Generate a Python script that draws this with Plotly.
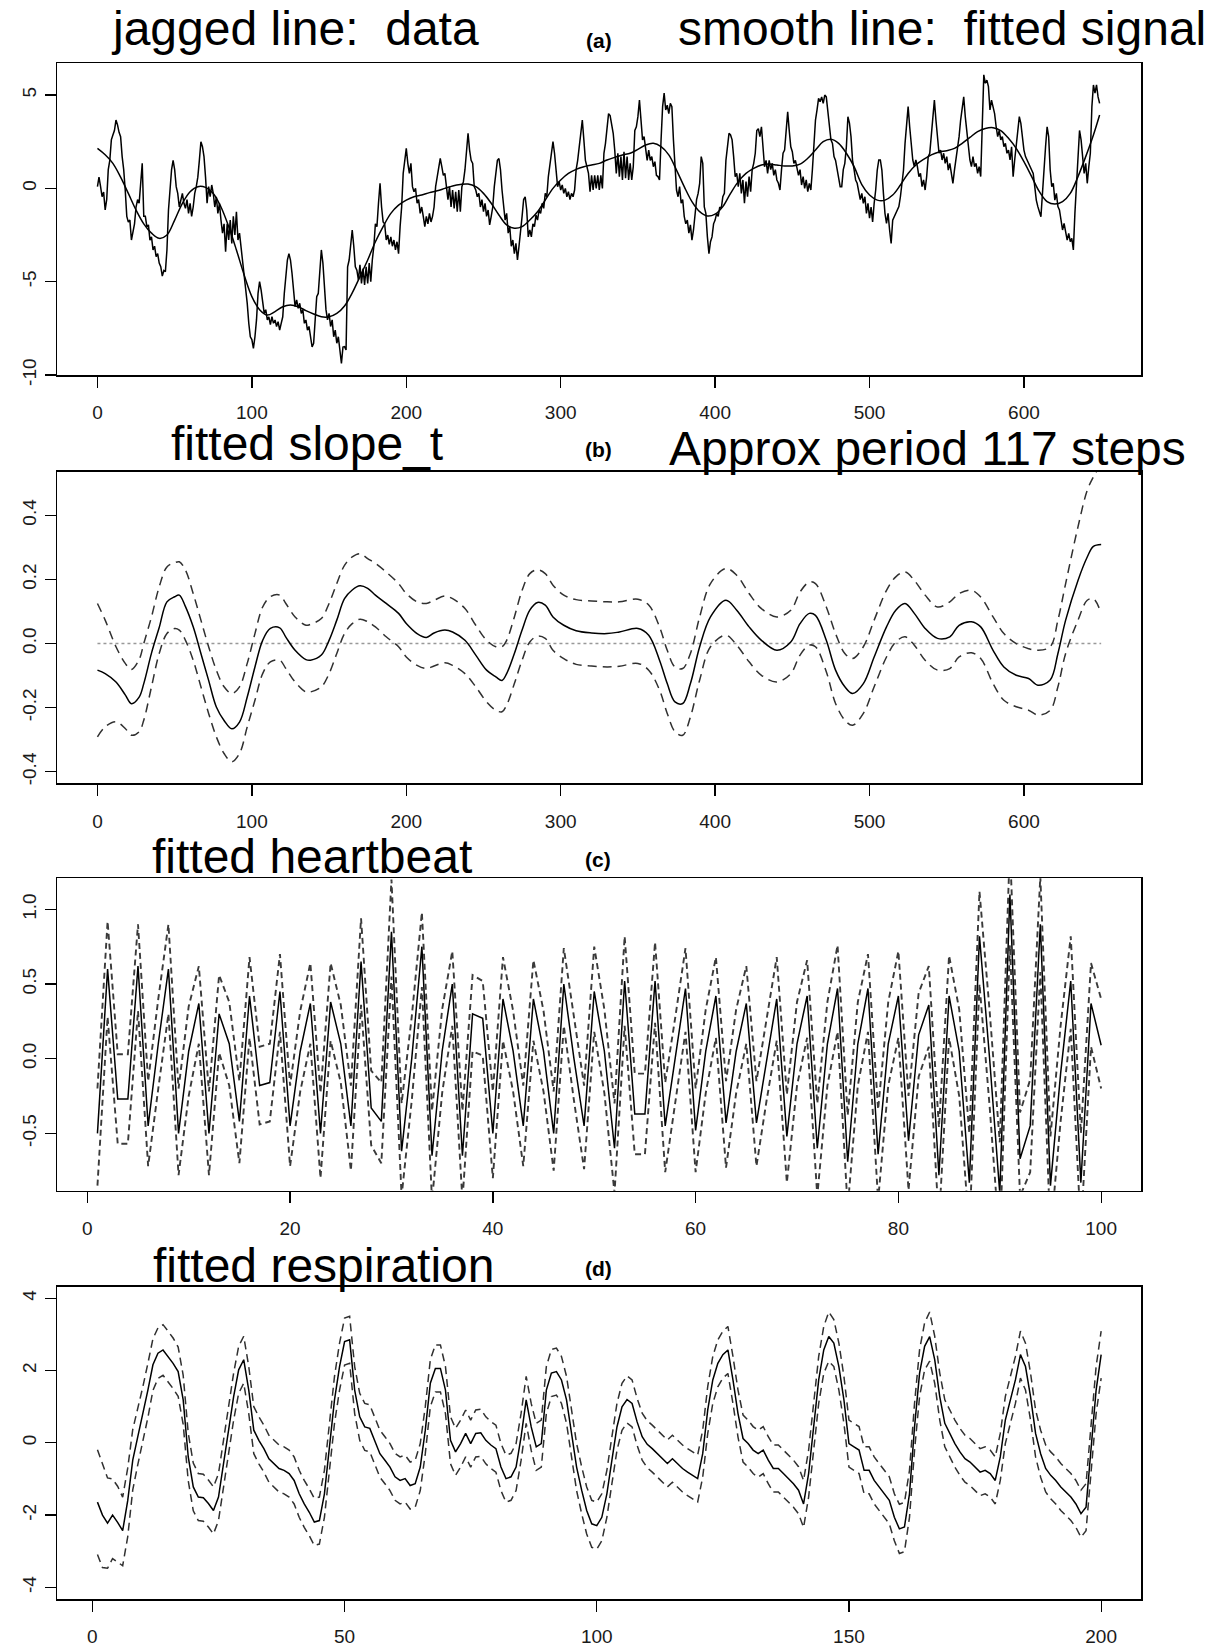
import plotly.graph_objects as go

W, H = 1215, 1648
FONT = "Liberation Sans, Arial, Helvetica, sans-serif"

# ---------------- panel (a): data and fitted signal ----------------
observed = [
    0.09, 0.6, 0.1, -0.45, -0.2, -1.16, -0.6, 1.0, 1.5, 2.6,
    2.86, 3.1, 3.66, 3.4, 3.0, 2.77, 1.7, 1.0, -0.1, -1.5,
    -1.8, -1.7, -2.77, -2.4, -1.9, -1.0, -0.6, -0.8, 0.45, 1.34,
    -1.5, -1.5, -2.05, -1.96, -2.77, -2.6, -3.3, -3.1, -3.66, -3.5,
    -4.0, -4.2, -4.7, -4.4, -4.46, -3.3, -1.16, 0.09, 1.0, 1.5,
    1.0, 0.09, -0.27, -1.0, -0.6, -0.27, -0.8, -1.07, -0.6, -1.34,
    -0.8, -1.5, -1.0, -0.27, 0.09, 0.6, 1.5, 2.5, 2.23, 1.7,
    0.6, -0.8, 0.09, -0.45, 0.18, -0.27, -1.0, -0.45, -1.34, -0.8,
    -1.7, -2.4, -1.9, -3.4, -1.9, -2.77, -1.7, -2.95, -1.5, -2.5,
    -1.25, -2.77, -2.4, -3.1, -3.84, -4.55, -5.45, -6.16, -7.23, -7.95,
    -8.1, -8.57, -7.95, -7.05, -5.63, -5.0, -5.45, -6.16, -6.7, -6.5,
    -7.05, -6.88, -7.3, -6.88, -7.23, -7.05, -7.4, -7.14, -7.6, -7.23,
    -6.88, -5.63, -4.55, -3.84, -3.5, -3.84, -4.55, -5.63, -6.34, -5.98,
    -6.43, -6.16, -6.7, -6.5, -7.23, -7.05, -7.6, -7.4, -7.95, -8.5,
    -8.3, -6.7, -5.8, -5.63, -4.55, -3.3, -4.0, -5.27, -6.5, -7.05,
    -6.7, -7.4, -7.05, -7.95, -7.6, -8.3, -7.95, -8.66, -9.38, -8.5,
    -8.48, -8.66, -4.2, -3.84, -3.1, -2.23, -3.1, -4.2, -4.38, -4.9,
    -4.1, -5.1, -4.3, -5.18, -4.2, -5.1, -4.0, -5.0, -3.84, -3.1,
    -1.9, -2.05, -0.8, 0.27, -1.0, -1.8, -1.9, -2.77, -2.5, -3.0,
    -2.6, -3.1, -2.77, -3.3, -2.86, -3.5, -2.05, -1.0, 0.8, 1.5,
    2.14, 1.34, 0.8, 1.34, 0.09, -0.18, 0.0, -0.8, -0.6, -1.34,
    -1.0, -1.5, -2.05, -1.5, -1.9, -1.34, -1.8, -1.5, -1.0, 0.09,
    0.54, 1.0, 1.6, 1.16, 0.7, 0.8, 0.09, -0.6, 0.09, -1.0,
    -0.09, -1.07, -0.18, -1.25, -0.09, -1.25, 0.09, 0.36, 1.0, 1.88,
    2.95, 2.05, 1.5, 1.34, 0.09, -0.09, -0.45, -0.27, -1.0, -0.6,
    -1.25, -0.8, -1.5, -1.16, -1.96, -1.5, -1.0, 0.09, 0.8, 1.5,
    1.6, 1.0, -0.09, -1.0, -1.7, -1.34, -2.4, -2.05, -3.1, -2.77,
    -3.5, -2.95, -3.84, -3.1, -2.4, -1.5, -0.6, -0.45, -1.16, -2.6,
    -2.23, -2.6, -1.9, -2.05, -1.43, -1.7, -1.16, -1.34, -0.8, -1.07,
    -0.27, -0.45, 0.63, 1.34, 1.88, 2.5, 1.88, 1.0, 0.09, 0.36,
    -0.09, 0.18, -0.27, 0.0, -0.45, -0.18, -0.6, -0.27, -0.45, -0.09,
    1.0, 1.5, 2.32, 2.95, 3.66, 2.6, 1.5, 1.16, 0.8, -0.18,
    0.7, -0.09, 0.7, 0.0, 0.7, -0.09, 0.7, 0.0, 1.88, 2.41,
    3.1, 4.0, 3.9, 3.5, 2.95, 2.05, 0.8, 1.88, 0.63, 1.7,
    0.45, 1.96, 0.54, 1.7, 0.45, 1.34, 0.45, 1.16, 3.1, 3.3,
    3.84, 4.73, 3.66, 2.6, 2.77, 2.23, 1.5, 2.05, 1.5, 1.7,
    1.16, 1.43, 0.7, 0.63, 0.45, 2.6, 4.38, 5.1, 4.2, 4.46,
    4.0, 4.55, 4.38, 2.6, 1.16, -0.09, -0.45, 0.09, -0.8, -0.6,
    -1.5, -1.9, -1.7, -2.4, -1.96, -2.77, -2.23, -1.5, -0.6, -0.27,
    0.27, 1.7, 1.34, -1.0, -1.34, -2.6, -3.5, -2.86, -2.6, -1.9,
    -1.7, -1.34, -1.5, -1.0, -1.07, -0.45, -0.27, 1.5, 2.23, 2.95,
    2.86, 2.6, 1.7, 0.63, 0.8, 0.09, 0.8, -0.27, 0.45, -0.8,
    0.36, -0.45, 0.63, -0.18, 1.0, 1.34, 1.88, 3.1, 3.2, 2.77,
    3.3, 2.05, 1.16, 1.5, 0.8, 1.5, 1.0, 1.34, 0.7, 1.0,
    0.45, 0.27, -0.09, 1.0, 1.88, 2.05, 3.3, 4.1, 3.1, 2.23,
    1.96, 1.34, 1.5, 1.0, 0.7, 1.0, 0.18, 0.63, 0.0, 0.45,
    -0.18, 0.27, -0.09, 1.0, 2.41, 3.66, 4.2, 4.82, 4.64, 4.9,
    4.55, 5.0, 4.9, 4.2, 3.3, 2.6, 2.41, 1.7, 1.5, 1.0,
    0.63, 0.09, 0.09, 1.0, 1.34, 2.23, 3.84, 3.5, 2.77, 1.5,
    1.0, 0.45, 0.27, -0.09, -0.6, -0.27, -0.8, -0.45, -1.34, -0.8,
    -1.6, -1.0, -1.8, -0.8, -0.09, 0.98, 1.52, 1.52, 0.98, -0.27,
    -1.34, -1.88, -1.34, -2.23, -2.95, -1.7, -1.52, -1.25, -1.16, -0.98,
    -0.45, 0.27, 0.98, 2.41, 3.66, 4.38, 3.3, 2.23, 1.52, 1.16,
    1.52, 1.16, 0.63, 0.8, 0.09, 0.45, -0.09, 0.63, 1.7, 1.88,
    2.95, 4.0, 4.73, 3.66, 2.77, 1.88, 2.05, 1.52, 1.88, 1.34,
    1.7, 0.98, 1.34, 0.63, 0.27, 0.98, 1.52, 2.05, 2.77, 3.66,
    4.2, 4.9, 3.84, 3.1, 2.23, 1.52, 1.16, 1.7, 1.16, 1.34,
    0.8, 1.16, 0.63, 3.3, 6.08, 5.63, 5.8, 5.45, 4.2, 4.73,
    4.38, 4.0, 3.3, 2.77, 3.1, 2.6, 2.77, 2.23, 2.41, 1.88,
    2.05, 1.52, 2.23, 0.63, 1.52, 2.41, 3.1, 3.84, 3.48, 2.6,
    2.05, 1.7, 1.52, 1.34, 1.16, 0.98, 0.8, 0.09, -0.63, -0.98,
    -1.34, -1.52, -0.27, 1.16, 2.23, 3.3, 2.77, 0.98, 0.09, 0.27,
    -0.63, -0.27, -0.98, -1.16, -1.7, -2.23, -1.88, -2.41, -2.77, -2.41,
    -2.86, -2.68, -3.3, -1.34, 0.27, 2.05, 3.1, 2.6, 1.52, 0.8,
    1.34, 0.27, 1.16, 1.88, 4.38, 5.54, 5.1, 5.54, 4.9, 4.55,
]
observed_t = list(range(len(observed)))

signal_t = list(range(0, 650, 5)) + [649]
signal = [
    2.14, 1.8, 1.34, 0.6, -0.27, -1.16, -1.9, -2.4, -2.68, -2.5,
    -1.7, -0.8, -0.18, 0.09, 0.05, -0.27, -1.0, -2.05, -3.3, -4.64,
    -5.8, -6.5, -6.79, -6.6, -6.34, -6.25, -6.34, -6.55, -6.73, -6.88,
    -6.88, -6.7, -6.3, -5.6, -4.73, -3.84, -2.86, -2.05, -1.34, -0.9,
    -0.63, -0.45, -0.36, -0.23, -0.13, 0.0, 0.13, 0.21, 0.23, 0.09,
    -0.27, -0.8, -1.43, -1.96, -2.14, -2.05, -1.7, -1.25, -0.63, 0.0,
    0.45, 0.8, 1.02, 1.16, 1.25, 1.34, 1.52, 1.66, 1.79, 1.88,
    2.09, 2.32, 2.41, 2.23, 1.79, 0.98, 0.09, -0.71, -1.25, -1.48,
    -1.38, -0.98, -0.27, 0.36, 0.8, 1.07, 1.25, 1.3, 1.25, 1.2,
    1.2, 1.3, 1.61, 2.05, 2.5, 2.63, 2.41, 1.88, 1.16, 0.2,
    -0.36, -0.63, -0.63, -0.36, 0.18, 0.8, 1.25, 1.55, 1.79, 1.95,
    2.02, 2.14, 2.41, 2.73, 3.04, 3.21, 3.25, 3.09, 2.68, 2.14,
    1.43, 0.63, -0.18, -0.71, -0.84, -0.71, -0.27, 0.63, 1.7, 2.86,
    3.93,
]

# ---------------- panel (b): fitted slope with bands ----------------
slope_t = [
    0, 5, 12, 18, 22, 27, 30, 35, 40, 45, 50, 53, 57, 62, 67, 72, 77, 82, 87, 92,
    97, 102, 107, 112, 118, 122, 128, 135, 138, 145, 150, 155, 160, 165, 170, 175,
    180, 187, 195, 200, 207, 213, 218, 225, 230, 238, 245, 252, 258, 262, 265, 270,
    275, 280, 285, 290, 295, 302, 310, 320, 330, 338, 350, 357, 364, 369, 374, 379,
    384, 390, 397, 407, 414, 422, 430, 440, 449, 455, 461, 465, 472, 478, 484, 489,
    496, 503, 511, 517, 523, 529, 536, 544, 552, 558, 566, 572, 580, 587, 595, 603,
    609, 617, 622, 627, 635, 641, 645, 650,
]
slope_mean = [
    -0.083, -0.094, -0.12, -0.16, -0.1875, -0.167, -0.125, -0.03, 0.05, 0.13,
    0.146, 0.151, 0.115, 0.052, -0.031, -0.115, -0.198, -0.24, -0.266, -0.245,
    -0.167, -0.073, 0.01, 0.047, 0.049, 0.02, -0.021, -0.05, -0.052, -0.036,
    0.01, 0.073, 0.14, 0.167, 0.18, 0.172, 0.151, 0.125, 0.094, 0.0625,
    0.031, 0.019, 0.033, 0.042, 0.036, 0.01, -0.036, -0.083, -0.104, -0.115,
    -0.094, -0.031, 0.042, 0.104, 0.128, 0.12, 0.083, 0.057, 0.04, 0.033,
    0.031, 0.036, 0.047, 0.026, -0.052, -0.125, -0.182, -0.187, -0.125, -0.01,
    0.083, 0.135, 0.104, 0.052, 0.01, -0.021, 0.005, 0.062, 0.094, 0.088,
    0.01, -0.083, -0.135, -0.156, -0.125, -0.042, 0.052, 0.104, 0.125, 0.094,
    0.047, 0.016, 0.021, 0.057, 0.068, 0.052, -0.021, -0.073, -0.099, -0.109,
    -0.13, -0.114, -0.031, 0.073, 0.197, 0.27, 0.303, 0.309,
]
slope_upper = [
    0.125, 0.073, -0.01, -0.062, -0.081, -0.05, 0.0, 0.083, 0.177, 0.239,
    0.252, 0.255, 0.229, 0.156, 0.073, -0.01, -0.083, -0.135, -0.156, -0.135,
    -0.062, 0.031, 0.114, 0.146, 0.151, 0.125, 0.083, 0.057, 0.06, 0.078,
    0.125, 0.187, 0.244, 0.27, 0.28, 0.265, 0.25, 0.223, 0.187, 0.156,
    0.13, 0.125, 0.135, 0.148, 0.14, 0.109, 0.057, 0.01, -0.01, -0.01,
    0.01, 0.083, 0.166, 0.218, 0.23, 0.218, 0.182, 0.151, 0.137, 0.133,
    0.13, 0.13, 0.138, 0.12, 0.052, -0.021, -0.073, -0.078, -0.031, 0.083,
    0.187, 0.234, 0.213, 0.156, 0.109, 0.083, 0.104, 0.161, 0.192, 0.187,
    0.114, 0.031, -0.031, -0.047, -0.01, 0.073, 0.166, 0.208, 0.223, 0.197,
    0.151, 0.114, 0.13, 0.156, 0.166, 0.145, 0.083, 0.031, 0.0, -0.016,
    -0.021, -0.01, 0.073, 0.187, 0.364, 0.478, 0.52, 0.56,
]
slope_lower = [
    -0.291, -0.26, -0.244, -0.265, -0.286, -0.275, -0.239, -0.135, -0.031, 0.031,
    0.047, 0.042, 0.01, -0.052, -0.135, -0.218, -0.291, -0.343, -0.369, -0.343,
    -0.26, -0.177, -0.094, -0.057, -0.052, -0.078, -0.12, -0.151, -0.151, -0.135,
    -0.094, -0.031, 0.031, 0.062, 0.076, 0.068, 0.052, 0.021, -0.01, -0.042,
    -0.068, -0.078, -0.07, -0.06, -0.068, -0.094, -0.135, -0.182, -0.208, -0.213,
    -0.192, -0.125, -0.052, 0.005, 0.023, 0.016, -0.021, -0.047, -0.065, -0.07,
    -0.073, -0.071, -0.062, -0.083, -0.145, -0.218, -0.275, -0.286, -0.229, -0.114,
    -0.01, 0.026, -0.005, -0.057, -0.099, -0.12, -0.094, -0.036, -0.005, -0.01,
    -0.088, -0.187, -0.239, -0.255, -0.218, -0.135, -0.042, 0.005, 0.021, -0.005,
    -0.052, -0.083, -0.078, -0.042, -0.029, -0.047, -0.125, -0.177, -0.197, -0.208,
    -0.223, -0.208, -0.135, -0.031, 0.073, 0.135, 0.14, 0.094,
]
zero_ref = [0.0, 0.0]

# ---------------- panel (c): fitted heartbeat ----------------
heart_mean = [
    -0.50, 0.60, -0.27, -0.27, 0.62, -0.45, 0.10, 0.60, -0.50, 0.05,
    0.37, -0.50, 0.30, 0.10, -0.42, 0.42, -0.18, -0.16, 0.45, -0.45,
    0.05, 0.37, -0.50, 0.38, 0.10, -0.45, 0.65, -0.33, -0.42, 0.85,
    -0.62, 0.00, 0.75, -0.65, 0.05, 0.50, -0.65, 0.30, 0.27, -0.50,
    0.40, 0.05, -0.45, 0.40, 0.05, -0.50, 0.50, 0.00, -0.45, 0.45,
    0.05, -0.60, 0.52, -0.37, -0.37, 0.52, -0.45, 0.00, 0.47, -0.48,
    0.05, 0.42, -0.43, 0.05, 0.37, -0.43, 0.00, 0.40, -0.52, 0.10,
    0.42, -0.60, 0.10, 0.47, -0.69, 0.10, 0.47, -0.64, 0.10, 0.42,
    -0.55, 0.16, 0.36, -0.78, 0.42, 0.05, -0.83, 0.82, 0.00, -0.90,
    1.10, -0.67, -0.45, 0.90, -0.85, -0.10, 0.52, -0.83, 0.37, 0.09,
]
heart_upper = [
    -0.20, 0.92, 0.03, 0.03, 0.90, -0.15, 0.40, 0.90, -0.20, 0.35,
    0.62, -0.22, 0.56, 0.38, -0.15, 0.68, 0.08, 0.10, 0.70, -0.18,
    0.32, 0.64, -0.23, 0.64, 0.36, -0.18, 0.94, -0.08, -0.16, 1.20,
    -0.30, 0.28, 0.98, -0.35, 0.33, 0.72, -0.35, 0.56, 0.52, -0.22,
    0.68, 0.32, -0.18, 0.66, 0.32, -0.22, 0.74, 0.28, -0.18, 0.75,
    0.33, -0.30, 0.82, -0.10, -0.10, 0.78, -0.16, 0.28, 0.74, -0.20,
    0.33, 0.68, -0.15, 0.33, 0.62, -0.15, 0.28, 0.68, -0.24, 0.38,
    0.66, -0.30, 0.38, 0.76, -0.38, 0.38, 0.70, -0.34, 0.38, 0.72,
    -0.25, 0.44, 0.62, -0.46, 0.69, 0.33, -0.50, 1.12, 0.32, -0.56,
    1.42, -0.36, -0.14, 1.22, -0.52, 0.22, 0.82, -0.50, 0.64, 0.40,
]
heart_lower = [
    -0.85, 0.28, -0.57, -0.57, 0.32, -0.72, -0.20, 0.30, -0.78, -0.25,
    0.10, -0.78, 0.04, -0.18, -0.70, 0.14, -0.44, -0.42, 0.18, -0.72,
    -0.22, 0.10, -0.80, 0.12, -0.16, -0.75, 0.36, -0.58, -0.70, 0.55,
    -0.92, -0.28, 0.48, -0.95, -0.23, 0.22, -0.95, 0.05, 0.02, -0.80,
    0.12, -0.22, -0.72, 0.12, -0.22, -0.75, 0.22, -0.28, -0.74, 0.18,
    -0.23, -0.90, 0.22, -0.64, -0.64, 0.24, -0.76, -0.28, 0.18, -0.76,
    -0.23, 0.14, -0.73, -0.23, 0.10, -0.72, -0.28, 0.12, -0.83, -0.18,
    0.14, -0.92, -0.18, 0.18, -1.00, -0.18, 0.18, -0.95, -0.18, 0.14,
    -0.88, -0.12, 0.08, -1.10, 0.14, -0.25, -1.15, 0.50, -0.32, -1.24,
    0.76, -0.92, -0.76, 0.58, -1.18, -0.42, 0.20, -1.15, 0.08, -0.20,
]
heart_t = list(range(1, len(heart_mean) + 1))

# ---------------- panel (d): fitted respiration ----------------
resp_mean = [
    -1.64, -2.00, -2.22, -2.00, -2.20, -2.43, -1.60, -0.48, 0.17, 0.80,
    1.46, 2.16, 2.48, 2.57, 2.39, 2.20, 1.97, 1.19, -0.39, -1.22,
    -1.50, -1.52, -1.68, -1.87, -1.50, -0.57, 0.35, 1.28, 2.02, 2.30,
    1.46, 0.35, 0.07, -0.16, -0.44, -0.57, -0.71, -0.76, -0.85, -1.04,
    -1.41, -1.69, -1.92, -2.19, -2.15, -1.41, -0.11, 1.19, 2.11, 2.80,
    2.85, 1.46, 0.72, 0.44, 0.40, 0.07, -0.30, -0.48, -0.67, -0.94,
    -1.04, -0.99, -1.18, -1.13, -0.67, 0.35, 1.65, 2.06, 2.06, 1.46,
    0.07, -0.25, -0.02, 0.26, -0.02, 0.26, 0.28, 0.07, -0.06, -0.16,
    -0.67, -0.99, -0.94, -0.67, 0.17, 1.19, 0.44, -0.11, -0.02, 1.46,
    1.93, 1.97, 1.74, 1.19, 0.26, -0.67, -1.31, -1.87, -2.24, -2.29,
    -2.06, -1.41, -0.48, 0.44, 1.00, 1.20, 1.09, 0.58, 0.17, -0.04,
    -0.16, -0.30, -0.44, -0.57, -0.44, -0.57, -0.71, -0.81, -0.90, -0.99,
    -0.30, 0.91, 1.74, 2.20, 2.44, 2.57, 1.74, 0.81, 0.12, -0.02,
    -0.20, -0.30, -0.20, -0.48, -0.71, -0.71, -0.85, -0.99, -1.13, -1.31,
    -1.69, -0.85, 0.44, 1.74, 2.57, 2.94, 2.76, 2.11, 1.19, -0.02,
    -0.11, -0.20, -0.76, -0.76, -1.04, -1.22, -1.41, -1.59, -2.06, -2.38,
    -2.33, -1.41, 0.44, 1.93, 2.67, 2.94, 2.30, 1.28, 0.54, 0.26,
    -0.02, -0.25, -0.44, -0.53, -0.67, -0.81, -0.76, -0.85, -1.04, -0.39,
    0.63, 1.19, 1.74, 2.44, 2.11, 1.28, 0.26, -0.30, -0.71, -0.90,
    -1.04, -1.22, -1.36, -1.50, -1.69, -1.96, -1.78, -0.11, 1.46, 2.44,
]
resp_upper = [
    -0.19, -0.60, -0.97, -1.00, -1.20, -1.50, -0.70, 0.37, 0.95, 1.55,
    2.20, 2.88, 3.18, 3.27, 3.09, 2.90, 2.65, 1.87, 0.27, -0.56,
    -0.85, -0.87, -1.03, -1.22, -0.85, 0.08, 1.00, 1.93, 2.67, 2.95,
    2.11, 1.00, 0.72, 0.49, 0.21, 0.08, -0.06, -0.11, -0.20, -0.39,
    -0.76, -1.04, -1.27, -1.54, -1.50, -0.76, 0.54, 1.84, 2.76, 3.45,
    3.50, 2.11, 1.37, 1.09, 1.05, 0.72, 0.35, 0.17, -0.02, -0.29,
    -0.39, -0.34, -0.53, -0.48, -0.02, 1.00, 2.30, 2.71, 2.71, 2.11,
    0.72, 0.40, 0.63, 0.91, 0.63, 0.91, 0.93, 0.72, 0.59, 0.49,
    -0.02, -0.34, -0.29, -0.02, 0.82, 1.84, 1.09, 0.54, 0.63, 2.11,
    2.58, 2.62, 2.39, 1.84, 0.91, -0.02, -0.66, -1.22, -1.59, -1.64,
    -1.41, -0.76, 0.17, 1.09, 1.65, 1.85, 1.74, 1.23, 0.82, 0.61,
    0.49, 0.35, 0.21, 0.08, 0.21, 0.08, -0.06, -0.16, -0.25, -0.34,
    0.35, 1.56, 2.39, 2.85, 3.09, 3.22, 2.39, 1.46, 0.77, 0.63,
    0.45, 0.35, 0.45, 0.17, -0.06, -0.06, -0.20, -0.34, -0.48, -0.66,
    -1.04, -0.20, 1.09, 2.39, 3.22, 3.62, 3.41, 2.76, 1.84, 0.63,
    0.54, 0.45, -0.11, -0.11, -0.39, -0.57, -0.76, -0.94, -1.41, -1.70,
    -1.65, -0.76, 1.09, 2.58, 3.32, 3.62, 2.95, 1.93, 1.19, 0.91,
    0.63, 0.40, 0.21, 0.12, -0.02, -0.16, -0.11, -0.20, -0.39, 0.26,
    1.28, 1.84, 2.39, 3.09, 2.76, 1.93, 0.91, 0.35, -0.06, -0.25,
    -0.39, -0.57, -0.71, -0.85, -1.04, -1.31, -1.13, 0.54, 2.11, 3.09,
]
resp_lower = [
    -3.09, -3.45, -3.47, -3.20, -3.30, -3.40, -2.60, -1.30, -0.60, 0.05,
    0.70, 1.45, 1.78, 1.87, 1.69, 1.50, 1.29, 0.51, -1.05, -1.88,
    -2.15, -2.17, -2.33, -2.52, -2.15, -1.22, -0.30, 0.63, 1.37, 1.65,
    0.81, -0.30, -0.58, -0.81, -1.09, -1.22, -1.36, -1.41, -1.50, -1.69,
    -2.06, -2.34, -2.57, -2.84, -2.80, -2.06, -0.76, 0.54, 1.46, 2.15,
    2.20, 0.81, 0.07, -0.21, -0.25, -0.58, -0.95, -1.13, -1.32, -1.59,
    -1.69, -1.64, -1.83, -1.78, -1.32, -0.30, 1.00, 1.41, 1.41, 0.81,
    -0.58, -0.90, -0.67, -0.39, -0.67, -0.39, -0.37, -0.58, -0.71, -0.81,
    -1.32, -1.64, -1.59, -1.32, -0.48, 0.54, -0.21, -0.76, -0.67, 0.81,
    1.28, 1.32, 1.09, 0.54, -0.39, -1.32, -1.96, -2.52, -2.89, -2.94,
    -2.71, -2.06, -1.13, -0.21, 0.35, 0.55, 0.44, -0.07, -0.48, -0.69,
    -0.81, -0.95, -1.09, -1.22, -1.09, -1.22, -1.36, -1.46, -1.55, -1.64,
    -0.95, 0.26, 1.09, 1.55, 1.79, 1.92, 1.09, 0.16, -0.53, -0.67,
    -0.85, -0.95, -0.85, -1.13, -1.36, -1.36, -1.50, -1.64, -1.78, -1.96,
    -2.34, -1.50, -0.21, 1.09, 1.92, 2.26, 2.11, 1.46, 0.54, -0.67,
    -0.76, -0.85, -1.41, -1.41, -1.69, -1.87, -2.06, -2.24, -2.71, -3.06,
    -3.01, -2.06, -0.21, 1.28, 2.02, 2.26, 1.65, 0.63, -0.11, -0.39,
    -0.67, -0.90, -1.09, -1.18, -1.32, -1.46, -1.41, -1.50, -1.69, -1.04,
    -0.02, 0.54, 1.09, 1.79, 1.46, 0.63, -0.39, -0.95, -1.36, -1.55,
    -1.69, -1.87, -2.01, -2.15, -2.34, -2.61, -2.43, -0.76, 0.81, 1.79,
]
resp_t = list(range(1, len(resp_mean) + 1))

# ---------------- figure ----------------
fig = go.Figure()
solid = dict(color="black", width=1.5)
dash_b = dict(color="#303030", width=1.5, dash="9px,6px")
dash_c = dict(color="#3a3a3a", width=1.9, dash="6px,4px")
dash_d = dict(color="#303030", width=1.5, dash="8px,5px")

fig.add_trace(go.Scatter(x=observed_t, y=observed, mode="lines", line=solid, xaxis="x", yaxis="y"))
fig.add_trace(go.Scatter(x=signal_t, y=signal, mode="lines", line=dict(color="black", width=1.5, shape="spline"),
                         xaxis="x", yaxis="y"))

fig.add_trace(go.Scatter(x=[slope_t[0], slope_t[-1]], y=zero_ref, mode="lines",
                         line=dict(color="#999999", width=1.6, dash="dot"), xaxis="x2", yaxis="y2"))
fig.add_trace(go.Scatter(x=slope_t, y=slope_upper, mode="lines", line=dict(dash_b, shape="spline"), xaxis="x2", yaxis="y2"))
fig.add_trace(go.Scatter(x=slope_t, y=slope_lower, mode="lines", line=dict(dash_b, shape="spline"), xaxis="x2", yaxis="y2"))
fig.add_trace(go.Scatter(x=slope_t, y=slope_mean, mode="lines", line=dict(solid, shape="spline"), xaxis="x2", yaxis="y2"))

fig.add_trace(go.Scatter(x=heart_t, y=heart_upper, mode="lines", line=dash_c, xaxis="x3", yaxis="y3"))
fig.add_trace(go.Scatter(x=heart_t, y=heart_lower, mode="lines", line=dash_c, xaxis="x3", yaxis="y3"))
fig.add_trace(go.Scatter(x=heart_t, y=heart_mean, mode="lines", line=dict(color="black", width=1.5), xaxis="x3", yaxis="y3"))

fig.add_trace(go.Scatter(x=resp_t, y=resp_upper, mode="lines", line=dash_d, xaxis="x4", yaxis="y4"))
fig.add_trace(go.Scatter(x=resp_t, y=resp_lower, mode="lines", line=dash_d, xaxis="x4", yaxis="y4"))
fig.add_trace(go.Scatter(x=resp_t, y=resp_mean, mode="lines", line=solid, xaxis="x4", yaxis="y4"))


def py(p):
    return 1 - p / H


def pxx(p):
    return p / W


XDOM = [pxx(57.3), pxx(1141.3)]
tickfont = dict(family=FONT, size=19, color="#1a1a1a")
base = dict(showline=True, linecolor="black", linewidth=1.6, mirror=True, ticks="outside",
            ticklen=11, tickwidth=1.3, tickcolor="black", showgrid=False, zeroline=False,
            tickfont=tickfont, fixedrange=True, automargin=False)

panels = [
    (63.3, 375.0, [-26, 676], [-10.0, 6.70], [0, 100, 200, 300, 400, 500, 600],
     [-10, -5, 0, 5], ["-10", "-5", "0", "5"]),
    (471.7, 783.3, [-26, 676], [-0.436, 0.536], [0, 100, 200, 300, 400, 500, 600],
     [-0.4, -0.2, 0.0, 0.2, 0.4], ["-0.4", "-0.2", "0.0", "0.2", "0.4"]),
    (878.3, 1190.7, [-2.96, 103.96], [-0.884, 1.208], [0, 20, 40, 60, 80, 100],
     [-0.5, 0.0, 0.5, 1.0], ["-0.5", "0.0", "0.5", "1.0"]),
    (1286.7, 1599.0, [-6.96, 207.96], [-4.32, 4.32], [0, 50, 100, 150, 200],
     [-4, -2, 0, 2, 4], ["-4", "-2", "0", "2", "4"]),
]

layout = dict(width=W, height=H, margin=dict(l=0, r=0, t=0, b=0, autoexpand=False), paper_bgcolor="white",
              plot_bgcolor="white", showlegend=False, font=dict(family=FONT, color="black"))
for i, (yt, yb, xr, yr, xt, ytv, ytt) in enumerate(panels, start=1):
    sfx = "" if i == 1 else str(i)
    layout["xaxis" + sfx] = dict(base, domain=XDOM, range=xr, tickvals=xt, anchor="y" + sfx,
                                 ticklabelstandoff=9)
    layout["yaxis" + sfx] = dict(base, domain=[py(yb), py(yt)], range=yr, tickvals=ytv, ticktext=ytt,
                                 tickangle=-90, anchor="x" + sfx, ticklabelstandoff=1)

big = dict(family=FONT, size=48, color="black")
lab = dict(family=FONT, size=21, color="black")
notes = [
    ("jagged line:  data", 294.6, 28.7, big),
    ("<b>(a)</b>", 598.5, 41.0, lab),
    ("smooth line:  fitted signal", 942.0, 28.7, big),
    ("fitted slope_t", 307.0, 443.0, big),
    ("<b>(b)</b>", 598.5, 449.7, lab),
    ("Approx period 117 steps", 927.0, 448.7, big),
    ("fitted heartbeat", 312.0, 857.0, big),
    ("<b>(c)</b>", 598.0, 859.7, lab),
    ("fitted respiration", 324.4, 1265.4, big),
    ("<b>(d)</b>", 598.0, 1268.0, lab),
]
layout["annotations"] = [
    dict(text=t, x=pxx(x), y=py(y), xref="paper", yref="paper", xanchor="center", yanchor="middle",
         showarrow=False, font=f)
    for (t, x, y, f) in notes
]
fig.update_layout(**layout)
fig.write_html(
    "out.html",
    config={"displayModeBar": False, "staticPlot": True},
    post_script="document.body.style.margin='0';document.body.style.padding='0';"
                "document.body.style.overflow='hidden';",
)
